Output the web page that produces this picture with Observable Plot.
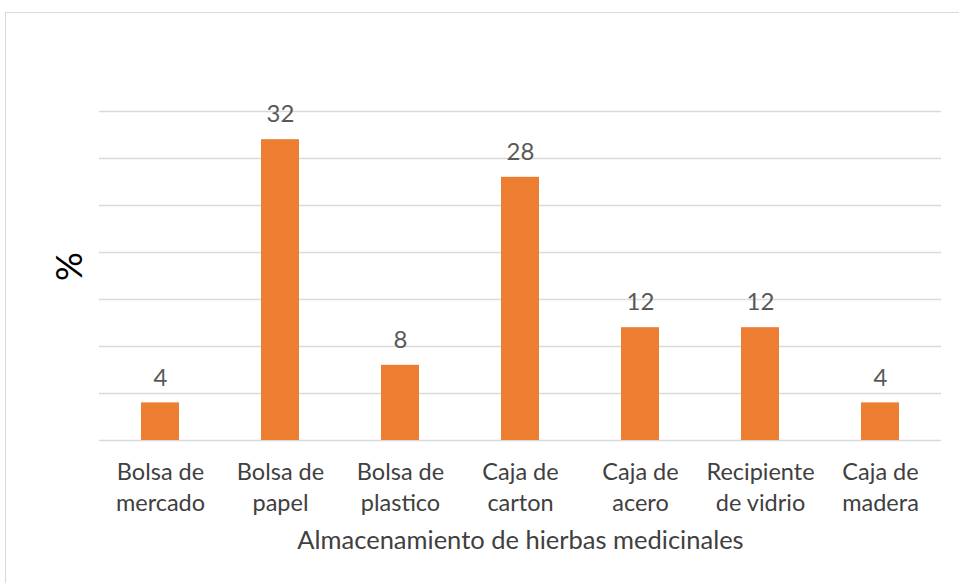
<!DOCTYPE html>
<html>
<head>
<meta charset="utf-8">
<script src="https://cdn.jsdelivr.net/npm/d3@7"></script>
<script src="https://cdn.jsdelivr.net/npm/@observablehq/plot@0.6"></script>
<style>
  html, body { margin: 0; padding: 0; background: #fff; }
  #wrap { position: relative; width: 959px; height: 583px; overflow: hidden; }
  #frame { position: absolute; left: 5px; top: 12px; width: 1000px; height: 1000px; border: 1.5px solid #d9d9d9; box-sizing: border-box; }
  #chart { position: absolute; left: 0; top: 0; }
</style>
</head>
<body>
<div id="wrap"><div id="frame"></div><div id="chart"></div></div>
<script>
const categories = ["Bolsa de mercado", "Bolsa de papel", "Bolsa de plastico", "Caja de carton", "Caja de acero", "Recipiente de vidrio", "Caja de madera"];
const tickLabels = ["Bolsa de\nmercado", "Bolsa de\npapel", "Bolsa de\nplastico", "Caja de\ncarton", "Caja de\nacero", "Recipiente\nde vidrio", "Caja de\nmadera"];
const values = [4, 32, 8, 28, 12, 12, 4];
const gridTicks = [0, 5, 10, 15, 20, 25, 30, 35];
const xTitle = "Almacenamiento de hierbas medicinales";
const yTitle = "%";

const data = categories.map((c, i) => ({cat: c, value: values[i]}));
const font = "Lato, sans-serif";

const chart = Plot.plot({
  width: 959,
  height: 583,
  marginLeft: 99,
  marginRight: 18,
  marginTop: 111,
  marginBottom: 143,
  style: {fontFamily: font, background: "transparent"},
  x: {domain: categories, paddingInner: 0.684, paddingOuter: 0.342},
  y: {domain: [0, 35]},
  marks: [
    Plot.gridY(gridTicks, {stroke: "#d9d9d9", strokeOpacity: 1, strokeWidth: 1.5}),
    Plot.barY(data, {x: "cat", y: "value", fill: "#ED7D31"}),
    Plot.text(data, {x: "cat", y: "value", text: d => String(d.value), dy: -25, fill: "#595959", fontSize: 24, lineAnchor: "middle"}),
    Plot.axisX({tickSize: 0, tickPadding: 18, tickFormat: d => tickLabels[categories.indexOf(d)], fontSize: 23.5, lineHeight: 1.3, fill: "#404040", label: null}),
    Plot.axisY({ticks: [], label: null}),
    Plot.text([xTitle], {frameAnchor: "bottom", dy: 100, fontSize: 25.5, fill: "#404040", lineAnchor: "middle"}),
    Plot.text([yTitle], {frameAnchor: "left", dx: -29, dy: 5, rotate: -90, fontSize: 36, fill: "#000", lineAnchor: "middle"})
  ]
});
document.getElementById("chart").appendChild(chart);
</script>
</body>
</html>
